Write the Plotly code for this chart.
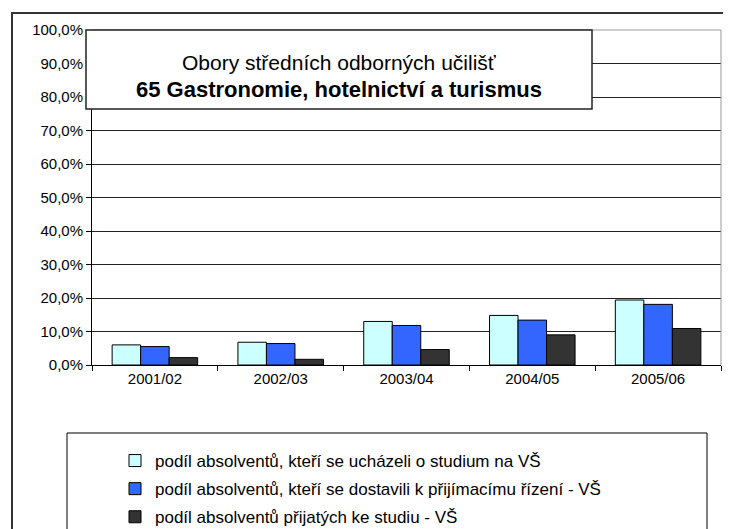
import plotly.graph_objects as go

categories = ["2001/02", "2002/03", "2003/04", "2004/05", "2005/06"]
series_names = [
    "podíl absolventů, kteří se ucházeli o studium na VŠ",
    "podíl absolventů, kteří se dostavili k přijímacímu řízení - VŠ",
    "podíl absolventů přijatých ke studiu - VŠ",
]
applied = [6.0, 6.8, 13.0, 14.8, 19.4]
attended = [5.5, 6.4, 11.8, 13.4, 18.1]
admitted = [2.2, 1.7, 4.6, 9.0, 10.9]
colors = ["#CCFFFF", "#3366FF", "#333333"]
y_tick_vals = [0, 10, 20, 30, 40, 50, 60, 70, 80, 90, 100]
y_tick_labels = ["0,0%", "10,0%", "20,0%", "30,0%", "40,0%", "50,0%",
                 "60,0%", "70,0%", "80,0%", "90,0%", "100,0%"]

OFF = 8                    # page body margin
SW, SH = 731, 600          # screen extent covered by the figure (bottom part is below the window)
W, H = SW - OFF, SH - OFF  # figure size
L, R, T, B = 92, 721, 30, 365  # plot area in screen pixels


def px(x):
    return (x - L) / (R - L)


def py(y):
    return (B - y) / (B - T)


fig = go.Figure()
for i, (name, vals) in enumerate(zip(series_names, [applied, attended, admitted])):
    fig.add_trace(go.Bar(
        x=categories, y=vals, name=name,
        marker=dict(color=colors[i], line=dict(color="#000000", width=1)),
        legendgroup=f"g{i}",
    ))

fig.update_layout(
    width=W, height=H,
    margin=dict(l=L - OFF, r=SW - R, t=T - OFF, b=SH - B, pad=0),
    paper_bgcolor="white", plot_bgcolor="white",
    barmode="group", bargap=0.32, bargroupgap=0,
    font=dict(family="Liberation Sans, Arial, sans-serif", size=15, color="#000000"),
    showlegend=True,
    legend=dict(
        x=px(115), y=py(443), xanchor="left", yanchor="top",
        bgcolor="rgba(0,0,0,0)", borderwidth=0,
        font=dict(size=17, family="Liberation Sans, Arial, sans-serif"),
        tracegroupgap=3, traceorder="grouped",
    ),
)

fig.update_yaxes(
    range=[0, 100], tickvals=y_tick_vals, ticktext=y_tick_labels,
    showgrid=True, gridcolor="#222222", gridwidth=1,
    showline=True, linecolor="#000000", linewidth=1,
    ticks="outside", ticklen=5, tickcolor="#000000",
    zeroline=False, tickfont=dict(size=15),
)
fig.update_xaxes(
    showline=True, linecolor="#000000", linewidth=1,
    ticks="outside", ticklen=5, tickcolor="#000000", tickson="boundaries",
    tickfont=dict(size=15), showgrid=False,
)

shapes = [
    # gray top/right plot border
    dict(type="line", xref="paper", yref="paper", x0=0, x1=1, y0=1, y1=1,
         line=dict(color="#999999", width=1)),
    dict(type="line", xref="paper", yref="paper", x0=1, x1=1, y0=0, y1=1,
         line=dict(color="#999999", width=1)),
    # outer chart frame
    dict(type="rect", xref="paper", yref="paper", x0=px(12), x1=px(745),
         y0=py(580), y1=py(13), line=dict(color="#333333", width=2),
         fillcolor="rgba(0,0,0,0)", layer="above"),
    # title box
    dict(type="rect", xref="paper", yref="paper", x0=px(86), x1=px(592),
         y0=py(109), y1=py(30), line=dict(color="#222222", width=1.5),
         fillcolor="white", layer="above"),
    # legend box
    dict(type="rect", xref="paper", yref="paper", x0=px(67), x1=px(707),
         y0=py(570), y1=py(433), line=dict(color="#000000", width=1),
         fillcolor="rgba(0,0,0,0)", layer="above"),
]
fig.update_layout(shapes=shapes)

fig.add_annotation(
    xref="paper", yref="paper", x=px(339), y=py(62), showarrow=False,
    text="Obory středních odborných učilišť", font=dict(size=21),
    xanchor="center", yanchor="middle",
)
fig.add_annotation(
    xref="paper", yref="paper", x=px(339), y=py(90), showarrow=False,
    text="<b>65 Gastronomie, hotelnictví a turismus</b>", font=dict(size=22),
    xanchor="center", yanchor="middle",
)

fig.write_html("out.html")
